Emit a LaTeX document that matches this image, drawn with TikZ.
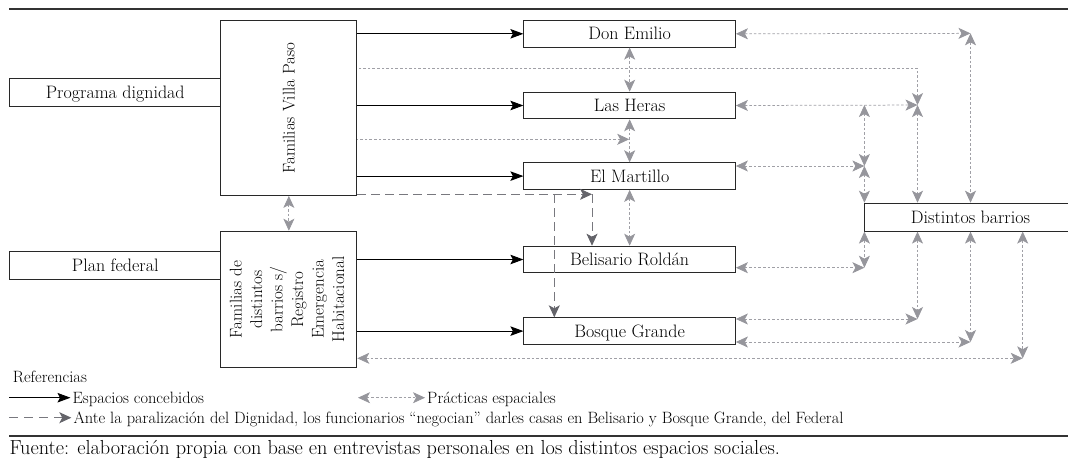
\documentclass[tikz,border=0pt]{standalone}
\usetikzlibrary{arrows.meta}
\definecolor{dotgray}{RGB}{160,160,166}
\definecolor{tipgray}{RGB}{150,150,156}
\definecolor{dashgray}{RGB}{120,120,126}
\definecolor{tipdark}{RGB}{100,100,106}
\definecolor{boxline}{RGB}{40,40,40}
\newcommand{\nodefont}{\fontsize{18}{21}\selectfont}
\newcommand{\rotfont}{\fontsize{17}{20.5}\selectfont}
\newcommand{\legfont}{\fontsize{16.4}{19}\selectfont}
\newcommand{\srcfont}{\fontsize{20.3}{24}\selectfont}
\tikzset{
  box/.style={draw=boxline, line width=0.9pt, inner sep=0pt, anchor=north west, font=\nodefont, align=center},
  rotbox/.style={box, font=\rotfont, minimum width=136pt},
  midbox/.style={box, minimum width=211.6pt, minimum height=26.7pt, text height=12.5pt, text depth=0.5pt},
  sidebox/.style={box, minimum width=211.1pt, minimum height=28pt, text height=12.5pt, text depth=0.5pt},
  blk/.style={draw=black, line width=0.9pt, -{Stealth[length=13pt,width=9.5pt,inset=2.5pt]}},
  gtip/.tip={Stealth[length=12pt,width=11pt,inset=3pt,color=tipgray]},
  gr/.style={draw=dotgray, line width=0.75pt, dash pattern=on 2.6pt off 2pt, gtip-gtip},
  grL/.style={draw=dotgray, line width=0.75pt, dash pattern=on 2.6pt off 2pt, gtip-},
  dtip/.tip={Stealth[length=12pt,width=11pt,inset=3pt,color=tipdark]},
  dsh/.style={draw=dashgray, line width=0.9pt, dash pattern=on 9pt off 5pt, -dtip},
  dshleg/.style={draw=dashgray, line width=0.9pt, dash pattern=on 9pt off 6pt, -dtip},
  rule/.style={draw=black!80, line width=1.2pt},
  leg/.style={inner sep=0pt, anchor=base west, font=\legfont},
  src/.style={inner sep=0pt, anchor=base west, font=\srcfont},
}
\begin{document}
\begin{tikzpicture}[x=1pt,y=-1pt]
\useasboundingbox (0,0) rectangle (1068,460);
\clip (0,0) rectangle (1068,460);

% rules
\coordinate (r1a) at (9.3,9);
\coordinate (r1b) at (1068,9);
\draw[rule] (r1a) -- (r1b);

% left boxes
\node[sidebox] (prog) at (9.3,78.3) {Programa dignidad};
\node[sidebox] (plan) at (9.3,251) {Plan federal};
\node[rotbox, minimum height=175pt] (vp) at (220.4,20) {\rotatebox{90}{Familias Villa Paso}};
\node[rotbox, minimum height=136.6pt] (fd) at (220.4,230.7)
  {\rotatebox{90}{\begin{tabular}{@{}c@{}}Familias de\\ distintos\\ barrios s/\\ Registro\\ Emergencia\\ Habitacional\end{tabular}}};

% middle boxes
\node[midbox] (de) at (523.4,20) {Don Emilio};
\node[midbox] (lh) at (523.4,91.7) {Las Heras};
\node[midbox] (em) at (523.4,162.3) {El Martillo};
\node[midbox] (br) at (523.4,245.7) {Belisario Rold\'an};
\node[midbox] (bg) at (523.4,317.3) {Bosque Grande};
\node[box, minimum width=211.2pt, minimum height=28pt, text height=12.5pt, text depth=0.5pt] (db) at (864.4,202.7) {Distintos barrios};

% junctions
\coordinate (jA) at (970.5,33.35);
\coordinate (jB) at (917.5,68.3);
\coordinate (jC) at (917.5,105.05);
\coordinate (jD) at (864.4,105.05);
\coordinate (jE) at (864.4,166);
\coordinate (jF) at (629.2,139.3);
\coordinate (jG) at (864.4,267.7);
\coordinate (jH) at (917.5,319);
\coordinate (jI) at (970.5,342);
\coordinate (jJ) at (1022.7,358.3);
\coordinate (dA) at (592,194.3);
\coordinate (dB) at (554.3,194.3);

% concebidos (black)
\draw[blk] (vp.east |- de.west) -- (de.west);
\draw[blk] (vp.east |- lh.west) -- (lh.west);
\draw[blk] (vp.east |- em.west) -- (em.west);
\draw[blk] (fd.east |- br.west) -- (br.west);
\draw[blk] (fd.east |- bg.west) -- (bg.west);

% practicas (gray dotted)
\draw[gr] (de.east) -- (jA);
\draw[gr] (jA) -- (jA |- db.north);
\draw[gr] (de.south) -- (lh.north);
\draw[grL] (jC) -- (jB) -- (vp.east |- jB);
\draw[gr] (lh.east) -- (jC);
\draw[gr] (jC) -- (jC |- db.north);
\draw[gr] (jD) -- (jE);
\draw[gr] (em.east |- jE) -- (jE);
\draw[gr] (jE) -- (db.north west);
\draw[grL] (jF) -- (vp.east |- jF);
\draw[gr] (lh.south) -- (em.north);
\draw[gr] (em.south) -- (br.north);
\draw[gr] (vp.south) -- (fd.north);
\draw[gr] (br.east |- jG) -- (jG);
\draw[gr] (db.south west) -- (jG);
\draw[gr] (bg.east |- jH) -- (jH);
\draw[gr] (jH |- db.south) -- (jH);
\draw[gr] (bg.east |- jI) -- (jI);
\draw[gr] (jI |- db.south) -- (jI);
\draw[gr] (fd.east |- jJ) -- (jJ);
\draw[gr] (jJ |- db.south) -- (jJ);

% negotiation (dashed)
\draw[dsh] (vp.east |- dA) -- (dA);
\draw[dsh] (dA) -- (dA |- br.north);
\draw[dsh] (dB) -- (dB |- bg.north);

% legend
\node[leg] (ref) at (12.7,382.3) {Referencias};
\node[leg] (l1) at (72.5,403.3) {Espacios concebidos};
\coordinate (la1) at (9.3,397.7);
\draw[blk] (la1) -- ([xshift=-2pt]la1 -| l1.west);
\node[leg] (l2) at (427,403.3) {Pr\'acticas espaciales};
\coordinate (la2) at (358,397.7);
\draw[gr] (la2) -- ([xshift=-2pt]la2 -| l2.west);
\node[leg] (l3) at (73.3,423.3) {Ante la paralizaci\'on del Dignidad, los funcionarios ``negocian'' darles casas en Belisario y Bosque Grande, del Federal};
\coordinate (la3) at (9.3,417.7);
\draw[dshleg] (la3) -- ([xshift=-2pt]la3 -| l3.west);

\coordinate (r2a) at (9.3,436);
\coordinate (r2b) at (1068,436);
\draw[rule] (r2a) -- (r2b);
\node[src] (src) at (9.3,454) {Fuente: elaboraci\'on propia con base en entrevistas personales en los distintos espacios sociales.};
\end{tikzpicture}
\end{document}
